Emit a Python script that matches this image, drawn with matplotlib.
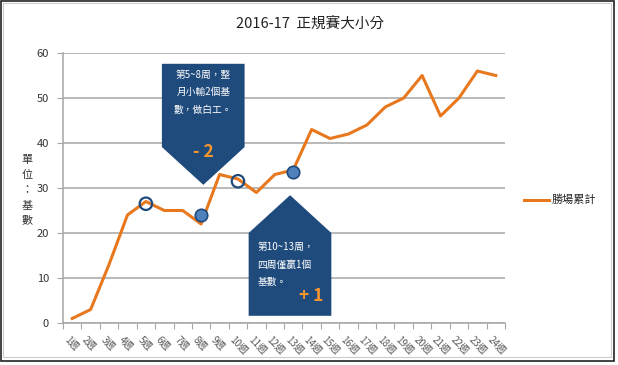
import numpy as np
import matplotlib.pyplot as plt
from matplotlib.patches import Polygon, Rectangle
import matplotlib.transforms as mtransforms

plt.rcParams['font.family'] = ['Noto Sans CJK TC', 'DejaVu Sans']

# 資料
weeks = [f"{i}週" for i in range(1, 25)]
wins = [1, 3, 13, 24, 27, 25, 25, 22, 33, 32, 29, 33, 34, 43, 41, 42, 44, 48, 50, 55, 46, 50, 56, 55]

open_idx = [4, 9]
open_val = [26.5, 31.5]
fill_idx = [7, 12]
fill_val = [24, 33.5]

title = "2016-17  正規賽大小分"
series_name = "勝場累計"
note1 = "第5~8周，整\n月小輸2個基\n數，做白工。"
note2 = "第10~13周，\n四周僅贏1個\n基數。"

orange = '#E8781E'
navy = '#1F4A7C'
gray = '#A6A6A6'

fig = plt.figure(figsize=(6.18, 3.65), dpi=100)
W, H = 618, 365

# 外框
fig.patches.append(Rectangle((1 / W, 1 - 361 / H), 613 / W, 360 / H, transform=fig.transFigure,
                             fill=False, edgecolor='#222222', lw=1.2))
fig.patches.append(Rectangle((3 / W, 1 - 357 / H), 608 / W, 354 / H, transform=fig.transFigure,
                             fill=False, edgecolor='#CCCCCC', lw=0.8))

ax = fig.add_axes([63 / W, 1 - 323 / H, (505 - 63) / W, (323 - 53) / H])
x = np.arange(len(weeks))
ax.plot(x, wins, color=orange, lw=2.2, zorder=3)
ax.scatter(open_idx, open_val, s=80, facecolor='none', edgecolor=navy, lw=1.6, zorder=4)
ax.scatter(fill_idx, fill_val, s=80, facecolor='#4F81BD', edgecolor=navy, lw=1.2, zorder=4)

ax.set_xlim(-0.5, len(weeks) - 0.5)
ax.set_ylim(0, 60)
ax.set_yticks(range(0, 61, 10))
ax.yaxis.grid(True, color=gray, lw=1.1)
ax.set_axisbelow(True)
ax.set_xticks(np.arange(-0.5, len(weeks), 1))
ax.set_xticklabels([])
ax.set_xticks(x, minor=True)
ax.set_xticklabels(weeks, minor=True, rotation=-45, ha='left', va='top',
                   rotation_mode='anchor', fontsize=7, color='#595959')
ax.tick_params(axis='x', which='minor', length=0, pad=8)
ax.tick_params(axis='x', which='major', length=4, color=gray)
ax.tick_params(axis='y', length=4, color=gray, labelsize=8, labelcolor='#333333', pad=6)
offset = mtransforms.ScaledTranslation(-3 / 100, 0, fig.dpi_scale_trans)
for lab in ax.get_xticklabels(minor=True):
    lab.set_transform(lab.get_transform() + offset)
for s in ['top', 'right']:
    ax.spines[s].set_visible(False)
for s in ['left', 'bottom']:
    ax.spines[s].set_color(gray)
    ax.spines[s].set_linewidth(1.1)

# 標註框
box1 = Polygon([(4.87, 57.6), (9.36, 57.6), (9.36, 39.1), (7.12, 30.7), (4.87, 39.1)],
               closed=True, facecolor=navy, edgecolor='none', zorder=5, clip_on=False)
ax.add_patch(box1)
ax.text(7.12, 51.3, note1, ha='center', va='center', color='white', fontsize=7,
        linespacing=1.9, zorder=6)
ax.text(7.12, 38.0, "- 2", ha='center', va='center', color='#F5962E', fontsize=12.5,
        fontweight='bold', zorder=6)

box2 = Polygon([(9.58, 1.6), (14.07, 1.6), (14.07, 20.0), (11.83, 28.4), (9.58, 20.0)],
               closed=True, facecolor=navy, edgecolor='none', zorder=5, clip_on=False)
ax.add_patch(box2)
ax.text(10.05, 13.0, note2, ha='left', va='center', color='white', fontsize=7,
        linespacing=1.9, zorder=6)
ax.text(12.95, 6.0, "+ 1", ha='center', va='center', color='#F5962E', fontsize=12.5,
        fontweight='bold', zorder=6)

fig.text(310 / W, 1 - 24 / H, title, ha='center', va='center', fontsize=10.5, color='#222222')
fig.text(27 / W, 1 - 190 / H, "單\n位\n：\n基\n數", ha='center', va='center', fontsize=8,
         color='#333333', linespacing=1.6)

# 圖例
fig.lines.append(plt.Line2D([524 / W, 549 / W], [1 - 200 / H, 1 - 200 / H],
                            transform=fig.transFigure, color=orange, lw=2.2))
fig.text(552 / W, 1 - 200 / H, series_name, ha='left', va='center', fontsize=8, color='#222222')

fig.savefig('out.png', dpi=100)
